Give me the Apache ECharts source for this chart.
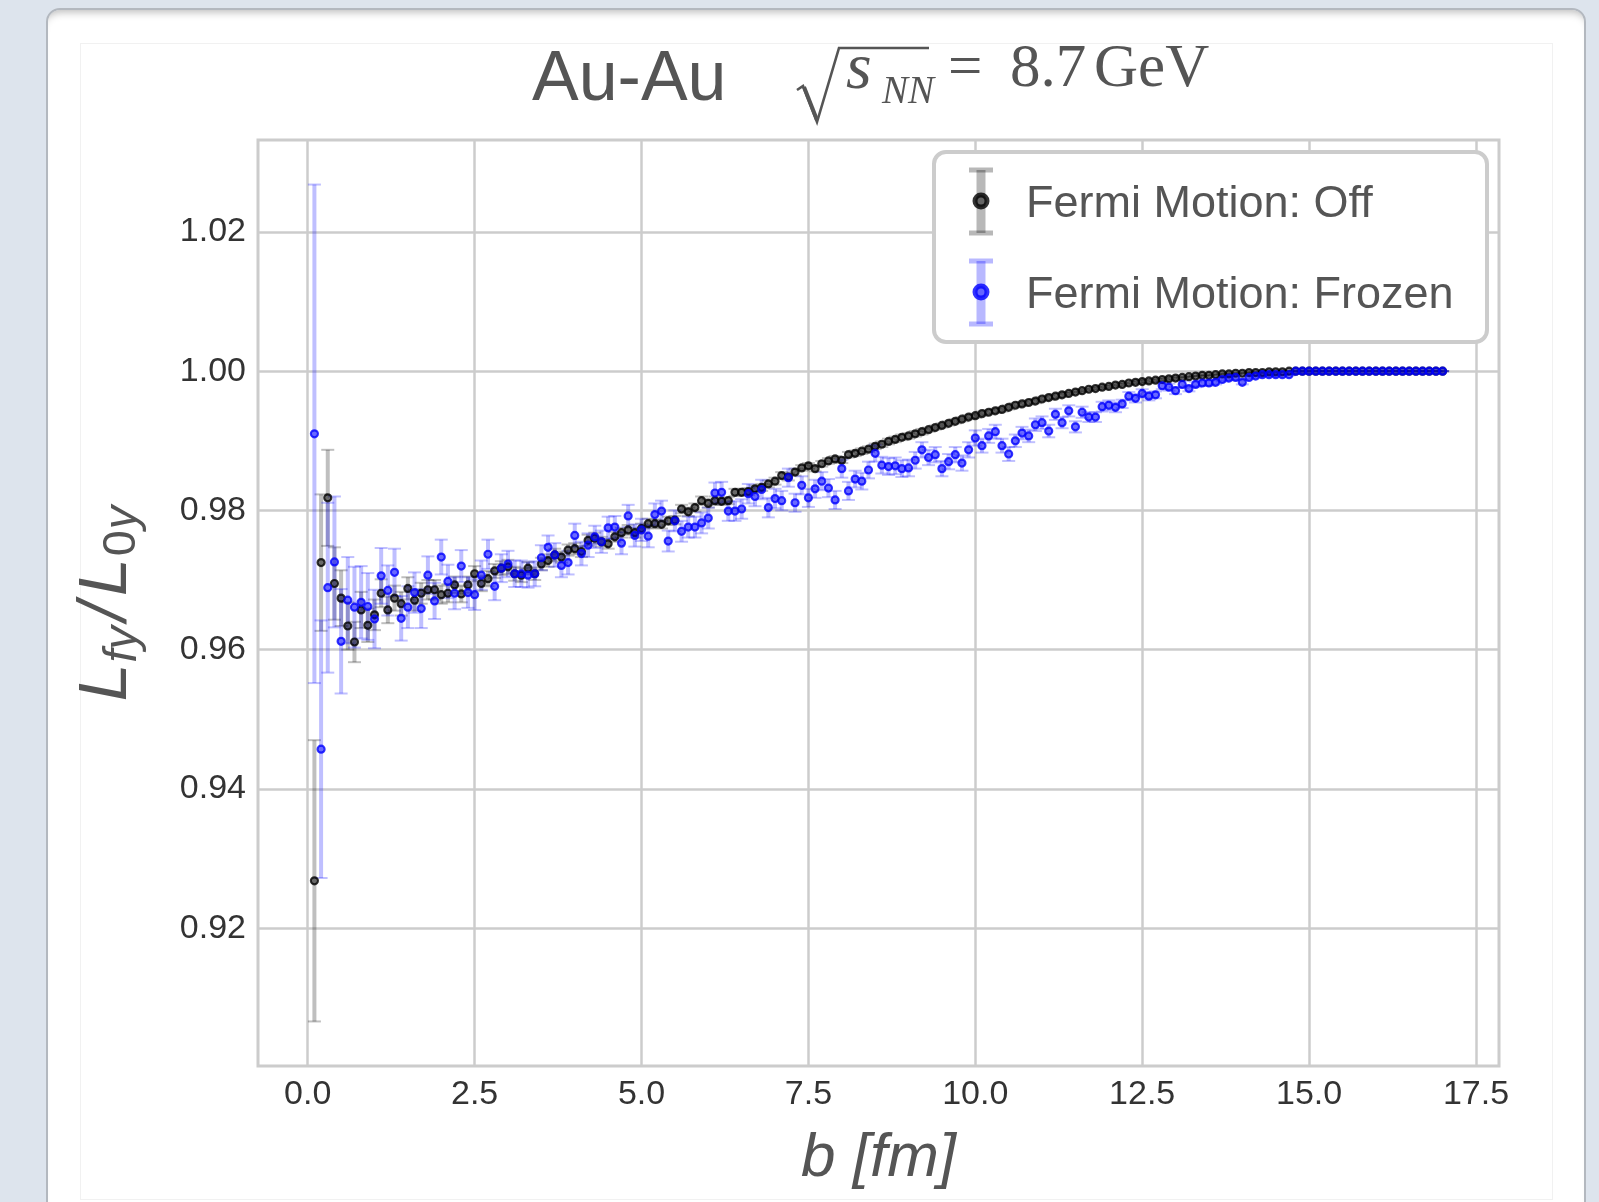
<!DOCTYPE html>
<html><head><meta charset="utf-8">
<script src="https://cdn.jsdelivr.net/npm/echarts@6/dist/echarts.min.js"></script>
<style>
html,body{margin:0;padding:0;width:1599px;height:1202px;overflow:hidden;background:#dde4ed;}
#card{position:absolute;left:46px;top:8px;width:1536px;height:1260px;background:#fff;border:2px solid #b3b8bf;border-radius:14px;box-shadow:inset 0 9px 9px -7px rgba(0,0,0,0.28);}
#fig{position:absolute;left:80px;top:43px;width:1471px;height:1155px;border:1px solid #f1f1f1;}
#chart{position:absolute;left:0;top:0;width:1599px;height:1202px;}
</style></head><body>
<div id="card"></div><div id="fig"></div><div id="chart"></div>
<script>
// impact parameter b [fm]
const bValues = [
0.1,0.2,0.3,0.4,0.5,0.6,0.7,0.8,0.9,1.0,
1.1,1.2,1.3,1.4,1.5,1.6,1.7,1.8,1.9,2.0,
2.1,2.2,2.3,2.4,2.5,2.6,2.7,2.8,2.9,3.0,
3.1,3.2,3.3,3.4,3.5,3.6,3.7,3.8,3.9,4.0,
4.1,4.2,4.3,4.4,4.5,4.6,4.7,4.8,4.9,5.0,
5.1,5.2,5.3,5.4,5.5,5.6,5.7,5.8,5.9,6.0,
6.1,6.2,6.3,6.4,6.5,6.6,6.7,6.8,6.9,7.0,
7.1,7.2,7.3,7.4,7.5,7.6,7.7,7.8,7.9,8.0,
8.1,8.2,8.3,8.4,8.5,8.6,8.7,8.8,8.9,9.0,
9.1,9.2,9.3,9.4,9.5,9.6,9.7,9.8,9.9,10.0,
10.1,10.2,10.3,10.4,10.5,10.6,10.7,10.8,10.9,11.0,
11.1,11.2,11.3,11.4,11.5,11.6,11.7,11.8,11.9,12.0,
12.1,12.2,12.3,12.4,12.5,12.6,12.7,12.8,12.9,13.0,
13.1,13.2,13.3,13.4,13.5,13.6,13.7,13.8,13.9,14.0,
14.1,14.2,14.3,14.4,14.5,14.6,14.7,14.8,14.9,15.0,
15.1,15.2,15.3,15.4,15.5,15.6,15.7,15.8,15.9,16.0,
16.1,16.2,16.3,16.4,16.5,16.6,16.7,16.8,16.9,17.0
];
// Fermi Motion: Off
const offValues = [
0.9268,0.9725,0.9818,0.9695,0.9674,0.9634,0.9611,0.9657,0.9635,0.9650,
0.9681,0.9657,0.9674,0.9666,0.9688,0.9671,0.9681,0.9686,0.9686,0.9679,
0.9681,0.9693,0.9680,0.9693,0.9709,0.9695,0.9702,0.9713,0.9717,0.9719,
0.9709,0.9707,0.9717,0.9709,0.9723,0.9728,0.9736,0.9733,0.9743,0.9745,
0.9741,0.9757,0.9760,0.9755,0.9752,0.9762,0.9768,0.9772,0.9768,0.9774,
0.9781,0.9781,0.9780,0.9785,0.9786,0.9802,0.9798,0.9804,0.9814,0.9810,
0.9814,0.9813,0.9814,0.9826,0.9826,0.9827,0.9831,0.9833,0.9838,0.9842,
0.9850,0.9848,0.9855,0.9861,0.9864,0.9860,0.9867,0.9871,0.9874,0.9872,
0.9880,0.9882,0.9885,0.9888,0.9892,0.9895,0.9899,0.9902,0.9905,0.9907,
0.9910,0.9913,0.9916,0.9919,0.9922,0.9925,0.9928,0.9931,0.9934,0.9936,
0.9939,0.9941,0.9943,0.9945,0.9948,0.9951,0.9953,0.9955,0.9957,0.9960,
0.9962,0.9964,0.9966,0.9968,0.9970,0.9972,0.9974,0.9975,0.9977,0.9978,
0.9980,0.9981,0.9983,0.9984,0.9985,0.9986,0.9987,0.9988,0.9989,0.9990,
0.9991,0.9992,0.9993,0.9994,0.9994,0.9995,0.9996,0.9996,0.9997,0.9997,
0.9998,0.9998,0.9998,0.9999,0.9999,0.9999,1.0000,1.0000,1.0000,1.0000,
1.0000,1.0000,1.0000,1.0000,1.0000,1.0000,1.0000,1.0000,1.0000,1.0000,
1.0000,1.0000,1.0000,1.0000,1.0000,1.0000,1.0000,1.0000,1.0000,1.0000
];
const offErrors = [
0.0202,0.0098,0.0069,0.0052,0.0040,0.0034,0.0029,0.0026,0.0024,0.0022,
0.0020,0.0019,0.0018,0.0017,0.0016,0.0015,0.0015,0.0014,0.0014,0.0013,
0.0013,0.0012,0.0012,0.0012,0.0011,0.0011,0.0011,0.0010,0.0010,0.0010,
0.0010,0.0010,0.0009,0.0009,0.0009,0.0009,0.0009,0.0008,0.0008,0.0008,
0.0008,0.0008,0.0008,0.0007,0.0007,0.0007,0.0007,0.0007,0.0007,0.0007,
0.0007,0.0006,0.0006,0.0006,0.0006,0.0006,0.0006,0.0006,0.0006,0.0006,
0.0006,0.0005,0.0005,0.0005,0.0005,0.0005,0.0005,0.0005,0.0005,0.0005,
0.0005,0.0005,0.0005,0.0004,0.0004,0.0004,0.0004,0.0004,0.0004,0.0004,
0.0004,0.0004,0.0004,0.0004,0.0004,0.0004,0.0004,0.0004,0.0004,0.0004,
0.0004,0.0004,0.0003,0.0003,0.0003,0.0003,0.0003,0.0003,0.0003,0.0003,
0.0003,0.0003,0.0003,0.0003,0.0003,0.0003,0.0003,0.0003,0.0003,0.0003,
0.0003,0.0003,0.0003,0.0002,0.0002,0.0002,0.0002,0.0002,0.0002,0.0002,
0.0002,0.0002,0.0002,0.0002,0.0002,0.0002,0.0002,0.0002,0.0002,0.0002,
0.0001,0.0001,0.0001,0.0001,0.0001,0.0001,0.0001,0.0001,0.0001,0.0001,
0.0001,0.0001,0.0001,0.0001,0.0001,0,0,0,0,0,
0,0,0,0,0,0,0,0,0,0,
0,0,0,0,0,0,0,0,0,0
];
// Fermi Motion: Frozen
const frozenValues = [
0.9910,0.9457,0.9689,0.9726,0.9612,0.9671,0.9661,0.9668,0.9662,0.9644,
0.9706,0.9685,0.9711,0.9645,0.9661,0.9682,0.9659,0.9707,0.9670,0.9733,
0.9698,0.9681,0.9720,0.9682,0.9679,0.9707,0.9737,0.9691,0.9717,0.9723,
0.9709,0.9709,0.9707,0.9709,0.9732,0.9747,0.9736,0.9721,0.9725,0.9764,
0.9738,0.9750,0.9762,0.9755,0.9775,0.9776,0.9753,0.9792,0.9764,0.9772,
0.9763,0.9794,0.9799,0.9756,0.9785,0.9770,0.9776,0.9776,0.9782,0.9789,
0.9825,0.9826,0.9799,0.9799,0.9802,0.9824,0.9820,0.9830,0.9804,0.9817,
0.9814,0.9847,0.9811,0.9836,0.9818,0.9831,0.9842,0.9832,0.9815,0.9860,
0.9828,0.9845,0.9842,0.9858,0.9882,0.9865,0.9863,0.9864,0.9860,0.9861,
0.9872,0.9887,0.9876,0.9880,0.9860,0.9870,0.9880,0.9868,0.9887,0.9904,
0.9893,0.9907,0.9913,0.9893,0.9881,0.9900,0.9911,0.9907,0.9923,0.9926,
0.9914,0.9938,0.9926,0.9943,0.9920,0.9941,0.9934,0.9934,0.9949,0.9951,
0.9948,0.9953,0.9964,0.9961,0.9968,0.9964,0.9966,0.9979,0.9977,0.9972,
0.9981,0.9975,0.9981,0.9983,0.9983,0.9984,0.9988,0.9990,0.9991,0.9984,
0.9991,0.9993,0.9995,0.9995,0.9995,0.9995,0.9995,1.0000,1.0000,1.0000,
1.0000,1.0000,1.0000,1.0000,1.0000,1.0000,1.0000,1.0000,1.0000,1.0000,
1.0000,1.0000,1.0000,1.0000,1.0000,1.0000,1.0000,1.0000,1.0000,1.0000
];
const frozenErrors = [
0.0358,0.0185,0.0122,0.0094,0.0075,0.0062,0.0058,0.0052,0.0048,0.0042,
0.0040,0.0036,0.0034,0.0032,0.0030,0.0029,0.0028,0.0027,0.0026,0.0025,
0.0024,0.0023,0.0023,0.0022,0.0022,0.0021,0.0021,0.0020,0.0020,0.0019,
0.0019,0.0019,0.0018,0.0018,0.0018,0.0017,0.0017,0.0017,0.0017,0.0017,
0.0017,0.0017,0.0016,0.0016,0.0016,0.0016,0.0016,0.0016,0.0016,0.0016,
0.0016,0.0016,0.0015,0.0015,0.0015,0.0015,0.0015,0.0015,0.0015,0.0015,
0.0015,0.0015,0.0014,0.0014,0.0014,0.0014,0.0014,0.0014,0.0014,0.0014,
0.0014,0.0013,0.0013,0.0013,0.0013,0.0013,0.0013,0.0013,0.0013,0.0013,
0.0013,0.0012,0.0012,0.0012,0.0012,0.0012,0.0012,0.0012,0.0012,0.0012,
0.0012,0.0011,0.0011,0.0011,0.0011,0.0011,0.0011,0.0011,0.0011,0.0011,
0.0010,0.0010,0.0010,0.0010,0.0010,0.0009,0.0009,0.0009,0.0009,0.0009,
0.0009,0.0008,0.0008,0.0008,0.0008,0.0008,0.0007,0.0007,0.0007,0.0007,
0.0007,0.0006,0.0006,0.0006,0.0006,0.0006,0.0005,0.0005,0.0005,0.0005,
0.0005,0.0004,0.0004,0.0004,0.0004,0.0003,0.0003,0.0003,0.0003,0.0003,
0.0002,0.0002,0.0002,0.0002,0.0002,0.0001,0.0001,0.0001,0.0001,0.0001,
0,0,0,0,0,0,0,0,0,0,
0,0,0,0,0,0,0,0,0,0
];
const xTicks = [0, 2.5, 5, 7.5, 10, 12.5, 15, 17.5];
const yTicks = [0.92, 0.94, 0.96, 0.98, 1.00, 1.02];
const seriesNames = ['Fermi Motion: Off', 'Fermi Motion: Frozen'];

const SANS = 'Liberation Sans, Arial, Helvetica, sans-serif';
const SERIF = 'Liberation Serif, Times New Roman, serif';

function errData(vals, errs) {
  return bValues.map((b, i) => [b, vals[i] - errs[i], vals[i] + errs[i]]);
}
function ptData(vals) {
  return bValues.map((b, i) => [b, vals[i]]);
}
function errRenderer(color) {
  return function (params, api) {
    const x = api.value(0);
    const lo = api.coord([x, api.value(1)]);
    const hi = api.coord([x, api.value(2)]);
    const hw = 6.5;
    return {
      type: 'group',
      children: [
        { type: 'line', shape: { x1: lo[0], y1: lo[1], x2: hi[0], y2: hi[1] }, style: { stroke: color, lineWidth: 4 } },
        { type: 'line', shape: { x1: lo[0] - hw, y1: lo[1], x2: lo[0] + hw, y2: lo[1] }, style: { stroke: color, lineWidth: 2 } },
        { type: 'line', shape: { x1: hi[0] - hw, y1: hi[1], x2: hi[0] + hw, y2: hi[1] }, style: { stroke: color, lineWidth: 2 } }
      ]
    };
  };
}

const chart = echarts.init(document.getElementById('chart'), null, { renderer: 'canvas' });

function legendEntry(cy, barColor, dotFill, dotStroke, label) {
  return [
    { type: 'line', z: 101, shape: { x1: 981, y1: cy - 31, x2: 981, y2: cy + 32 }, style: { stroke: barColor, lineWidth: 9 } },
    { type: 'line', z: 101, shape: { x1: 969, y1: cy - 31, x2: 993, y2: cy - 31 }, style: { stroke: barColor, lineWidth: 5 } },
    { type: 'line', z: 101, shape: { x1: 969, y1: cy + 32, x2: 993, y2: cy + 32 }, style: { stroke: barColor, lineWidth: 5 } },
    { type: 'circle', z: 102, shape: { cx: 981, cy: cy, r: 6 }, style: { fill: dotFill, stroke: dotStroke, lineWidth: 5 } },
    { type: 'text', z: 102, x: 1026, y: cy + 4, style: { text: label, font: '45px ' + SANS, fill: '#555555', verticalAlign: 'middle', align: 'left' } }
  ];
}

const option = {
  animation: false,
  grid: { left: 258, top: 140, width: 1241, height: 926, show: true, borderColor: '#cccccc', borderWidth: 3, backgroundColor: '#ffffff' },
  xAxis: {
    type: 'value', min: -0.745, max: 17.845,
    axisLine: { show: false },
    axisTick: { show: false, customValues: xTicks },
    axisLabel: { customValues: xTicks, formatter: v => Number(v).toFixed(1), fontSize: 34, color: '#333333', fontFamily: SANS, margin: 12 },
    splitLine: { show: true, lineStyle: { color: '#cccccc', width: 2.5 } },
    name: 'b [fm]', nameLocation: 'middle', nameGap: 62,
    nameTextStyle: { fontSize: 62, fontStyle: 'italic', color: '#555555', fontFamily: SANS }
  },
  yAxis: {
    type: 'value', min: 0.9002, max: 1.0332,
    axisLine: { show: false },
    axisTick: { show: false, customValues: yTicks },
    axisLabel: { customValues: yTicks, formatter: v => Number(v).toFixed(2), fontSize: 34, color: '#333333', fontFamily: SANS, margin: 12 },
    splitLine: { show: true, lineStyle: { color: '#cccccc', width: 2.5 } },
    name: '{L|L}{s|fy}{sl|/}{L|L}{s0|0}{s|y}', nameLocation: 'middle', nameRotate: 90, nameGap: 112,
    nameTextStyle: {
      color: '#555555', fontFamily: SANS,
      rich: {
        L: { fontSize: 68, fontStyle: 'italic', color: '#555555', fontFamily: SANS },
        sl: { fontSize: 68, fontStyle: 'italic', color: '#555555', fontFamily: SANS, padding: [0, 6, 0, 4] },
        s: { fontSize: 47, fontStyle: 'italic', color: '#555555', fontFamily: SANS, verticalAlign: 'top', padding: [30, 1, 0, 1] },
        s0: { fontSize: 47, fontStyle: 'normal', color: '#555555', fontFamily: SANS, verticalAlign: 'top', padding: [30, 0, 0, 2] }
      }
    }
  },
  series: [
    { name: seriesNames[0] + ' error', type: 'custom', renderItem: errRenderer('rgba(0,0,0,0.25)'), encode: { x: 0, y: [1, 2] }, data: errData(offValues, offErrors), silent: true },
    { name: seriesNames[0], type: 'scatter', data: ptData(offValues), symbol: 'circle', symbolSize: 7, itemStyle: { color: 'rgba(0,0,0,0.45)', borderColor: 'rgba(0,0,0,0.8)', borderWidth: 2.2, opacity: 1 } },
    { name: seriesNames[1] + ' error', type: 'custom', renderItem: errRenderer('rgba(0,0,255,0.25)'), encode: { x: 0, y: [1, 2] }, data: errData(frozenValues, frozenErrors), silent: true },
    { name: seriesNames[1], type: 'scatter', data: ptData(frozenValues), symbol: 'circle', symbolSize: 7, itemStyle: { color: 'rgba(0,0,255,0.45)', borderColor: 'rgba(0,0,255,0.8)', borderWidth: 2.2, opacity: 1 } }
  ],
  graphic: {
    elements: [
      // title
      { type: 'text', z: 100, x: 532, y: 81, style: { text: 'Au-Au', font: '70px ' + SANS, fill: '#555555', verticalAlign: 'middle', align: 'left' } },
      { type: 'polyline', z: 100, shape: { points: [[797, 90], [803, 86], [817, 122], [839, 48], [929, 48]] }, style: { stroke: '#555555', lineWidth: 2.6, fill: null, lineJoin: 'miter' } },
      { type: 'line', z: 100, shape: { x1: 804, y1: 87, x2: 817, y2: 120 }, style: { stroke: '#555555', lineWidth: 4 } },
      { type: 'text', z: 100, x: 846, y: 71, style: { text: 's', font: 'italic 66px ' + SERIF, fill: '#555555', verticalAlign: 'middle', align: 'left' } },
      { type: 'text', z: 100, x: 882, y: 93, style: { text: 'NN', font: 'italic 39px ' + SERIF, fill: '#555555', verticalAlign: 'middle', align: 'left' } },
      { type: 'text', z: 100, x: 948, y: 70, style: { text: '=', font: '61px ' + SERIF, fill: '#555555', verticalAlign: 'middle', align: 'left' } },
      { type: 'text', z: 100, x: 1010, y: 70, style: { text: '8.7', font: '61px ' + SERIF, fill: '#555555', verticalAlign: 'middle', align: 'left' } },
      { type: 'text', z: 100, x: 1094, y: 70, style: { text: 'GeV', font: '61px ' + SERIF, fill: '#555555', verticalAlign: 'middle', align: 'left' } },
      // legend
      { type: 'rect', z: 100, shape: { x: 934, y: 152, width: 553, height: 190, r: 12 }, style: { fill: '#ffffff', stroke: '#cccccc', lineWidth: 4 } }
    ].concat(
      legendEntry(201, 'rgba(0,0,0,0.28)', 'rgba(0,0,0,0.45)', 'rgba(0,0,0,0.8)', seriesNames[0]),
      legendEntry(292, 'rgba(0,0,255,0.28)', 'rgba(0,0,255,0.45)', 'rgba(0,0,255,0.8)', seriesNames[1])
    )
  }
};
chart.setOption(option);
</script></body></html>
